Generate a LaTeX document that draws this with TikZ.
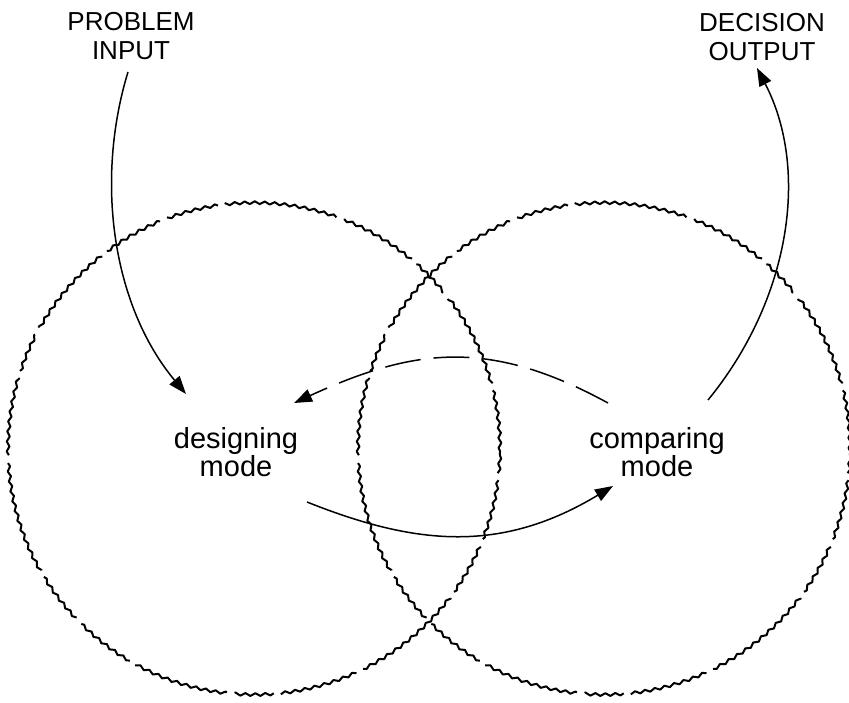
\documentclass[tikz,border=0pt]{standalone}
\usepackage{fontspec}
\setmainfont{Liberation Sans}
\usetikzlibrary{arrows.meta,decorations.pathmorphing}
\begin{document}
\begin{tikzpicture}[x=1pt,y=-1pt,
  wavy/.style={line width=2pt, line join=round,
    decoration={snake, segment length=10pt, amplitude=1.4pt}, decorate,
    dash pattern=on 70pt off 8pt on 110pt off 9pt on 45pt off 8pt on 90pt off 9pt on 130pt off 8pt on 60pt off 9pt},
  arr/.style={line width=1.5pt, -{Triangle[length=18pt,width=13pt]}},
  dasharr/.style={arr, dash pattern=on 36pt off 13pt},
  lbl/.style={font=\fontsize{26}{29}\selectfont, align=center, inner sep=0pt},
  modelbl/.style={font=\fontsize{29}{28}\selectfont, align=center, inner sep=0pt}]
\useasboundingbox (0,0) rectangle (849,703);
% circles
\begin{scope}[y=1pt]
\draw[wavy] (254,-451) circle[radius=246pt];
\draw[wavy] (604,-451) circle[radius=246pt];
\end{scope}
% labels
\node[lbl] (pin) at (131,36) {PROBLEM\\INPUT};
\node[lbl] (dout) at (762,37) {DECISION\\OUTPUT};
\node[modelbl] (dm) at (236,452) {designing\\mode};
\node[modelbl] (cm) at (657,452) {comparing\\mode};
% connector end points
\coordinate (pinS) at (128,72);
\coordinate (dmIn) at (186,394);
\coordinate (cmOut) at (708,400);
\coordinate (doutIn) at (757,68);
\coordinate (cmBack) at (608,403);
\coordinate (dmBack) at (294,403);
\coordinate (dmFwd) at (307,502);
\coordinate (cmFwd) at (613,486);
% connectors
\draw[arr] (pinS) .. controls (95,180) and (112,305) .. (dmIn);
\draw[arr] (cmOut) .. controls (790,300) and (810,170) .. (doutIn);
\draw[dasharr] (cmBack) .. controls (489,338) and (414,348) .. (dmBack);
\draw[arr] (dmFwd) .. controls (417,546) and (502,553) .. (cmFwd);
\end{tikzpicture}
\end{document}
